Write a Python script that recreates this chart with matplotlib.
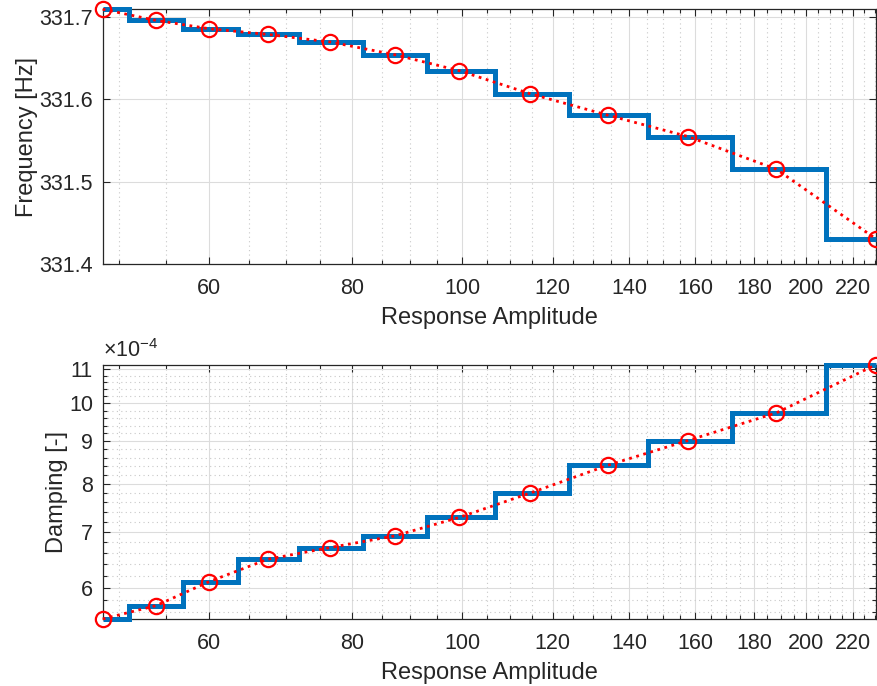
import numpy as np
import matplotlib
matplotlib.use("Agg")
import matplotlib.pyplot as plt
from matplotlib.ticker import FixedLocator, FuncFormatter, NullFormatter

# Data
amplitude = [48.4, 53.9, 60.0, 67.5, 76.6, 87.3, 99.4, 114.7, 134.0, 157.6, 188.4, 230.3]
frequency = [331.709, 331.6955, 331.6854, 331.6785, 331.6693, 331.6538, 331.6344,
             331.6064, 331.5806, 331.5546, 331.5149, 331.4304]
damping_e4 = [5.50, 5.707, 6.10, 6.49, 6.705, 6.926, 7.29, 7.80, 8.42, 9.02, 9.74, 11.13]
x_ticks = [60, 80, 100, 120, 140, 160, 180, 200, 220]
freq_ticks = [331.4, 331.5, 331.6, 331.7]
damp_ticks = [6, 7, 8, 9, 10, 11]

plt.rcParams["font.family"] = ["Liberation Sans", "DejaVu Sans"]
plt.rcParams["mathtext.fontset"] = "custom"
plt.rcParams["mathtext.rm"] = "Liberation Sans"

BLUE = "#0072BD"
AX_COL = "#262626"

amp = np.array(amplitude)
damping = np.array(damping_e4) * 1e-4
# bin edges at the geometric midpoints between points
edges = np.concatenate([[amp[0]], np.sqrt(amp[:-1] * amp[1:]), [amp[-1]]])

fig = plt.figure(figsize=(8.77, 6.86), dpi=100)
ax1 = fig.add_axes([0.1171, 0.6152, 0.8818, 0.3713])
ax2 = fig.add_axes([0.1171, 0.0977, 0.8818, 0.3707])


def style(ax):
    ax.set_xscale("log")
    ax.set_xlim(amp[0], amp[-1])
    ax.xaxis.set_major_locator(FixedLocator(x_ticks))
    ax.xaxis.set_minor_locator(FixedLocator(np.arange(50, 235, 5)))
    ax.xaxis.set_major_formatter(FuncFormatter(lambda v, p: "%d" % v))
    ax.xaxis.set_minor_formatter(NullFormatter())
    ax.tick_params(which="both", direction="in", top=True, right=True,
                   colors=AX_COL, labelcolor=AX_COL, labelsize=15.5, width=0.8)
    ax.tick_params(which="major", length=5, pad=7)
    ax.tick_params(axis="x", which="major", pad=10)
    ax.tick_params(which="minor", length=3)
    ax.grid(True, which="major", color="#dcdcdc", linewidth=0.8, linestyle="-")
    for s in ax.spines.values():
        s.set_color(AX_COL)
        s.set_linewidth(0.9)
    ax.set_axisbelow(True)
    ax.set_xlabel("Response Amplitude", fontsize=17, color=AX_COL, labelpad=6)


# Top: frequency
ax1.stairs(frequency, edges, baseline=None, color=BLUE, linewidth=3.6, clip_on=False, zorder=3)
ax1.plot(amp, frequency, linestyle=":", color="red", linewidth=2.0, marker="o",
         markersize=11, markerfacecolor="none", markeredgewidth=1.6, clip_on=False, zorder=4)
style(ax1)
ax1.set_ylim(331.4, max(frequency))
ax1.yaxis.set_major_locator(FixedLocator(freq_ticks))
ax1.yaxis.set_major_formatter(FuncFormatter(lambda v, p: "%.1f" % v))
ax1.xaxis.grid(True, which="minor", color="#c8c8c8", linewidth=0.8, linestyle=(0, (1, 3)))
ax1.set_ylabel("Frequency [Hz]", fontsize=17, color=AX_COL, labelpad=1)

# Bottom: damping
ax2.stairs(damping, edges, baseline=None, color=BLUE, linewidth=3.6, clip_on=False, zorder=3)
ax2.plot(amp, damping, linestyle=":", color="red", linewidth=2.0, marker="o",
         markersize=11, markerfacecolor="none", markeredgewidth=1.6, clip_on=False, zorder=4)
style(ax2)
ax2.set_yscale("log")
ax2.set_ylim(damping.min(), damping.max())
ax2.yaxis.set_major_locator(FixedLocator(np.array(damp_ticks) * 1e-4))
ax2.yaxis.set_minor_locator(FixedLocator(np.arange(5.6, 11.2, 0.2) * 1e-4))
ax2.yaxis.set_major_formatter(FuncFormatter(lambda v, p: "%d" % round(v * 1e4)))
ax2.yaxis.set_minor_formatter(NullFormatter())
ax2.grid(True, which="minor", color="#c8c8c8", linewidth=0.8, linestyle=(0, (1, 3)))
ax2.set_ylabel("Damping [-]", fontsize=17, color=AX_COL, labelpad=1)
ax2.text(0.0, 1.01, r"$\times$10$^{-4}$", transform=ax2.transAxes, fontsize=15.5,
         color=AX_COL, ha="left", va="bottom")

fig.savefig("out.png", dpi=100)
